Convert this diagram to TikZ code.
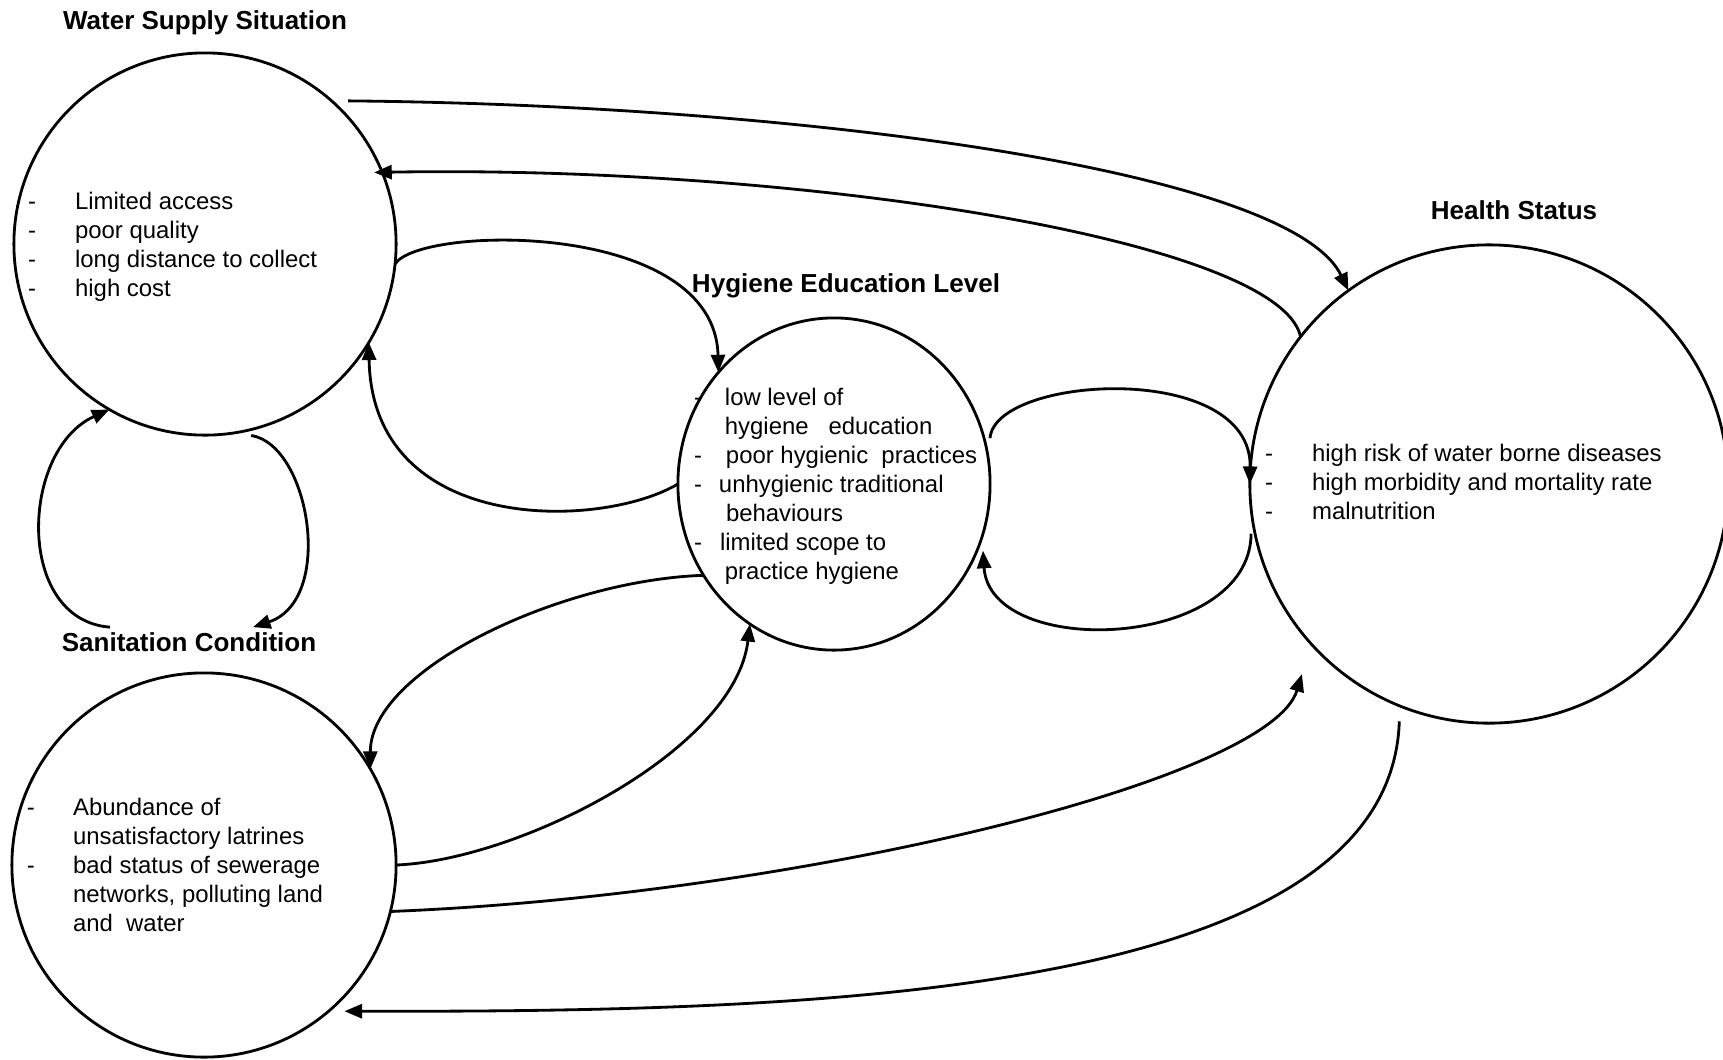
\documentclass[tikz,border=0pt]{standalone}
\usepackage{fontspec}
\setmainfont{Liberation Sans}
\usetikzlibrary{shapes.geometric,arrows.meta,calc}

% a bullet line: dash, then the text after a fixed indent
\newcommand\dashitem[2]{\makebox[#1][l]{-}#2}

\begin{document}
\begin{tikzpicture}[x=0.01cm,y=-0.01cm,
  every node/.style={inner sep=0pt, outer sep=0pt},
  bubble/.style={draw, circle, line width=0.8pt},
  title/.style={font=\fontsize{7.4}{8.9}\selectfont\bfseries, anchor=base},
  body/.style={font=\fontsize{6.8}{8.25}\selectfont, anchor=base west},
  link/.style={line width=0.8pt, -{Triangle[length=5pt,width=4pt]}},
]
\useasboundingbox (0,0) rectangle (1723,1059);

% the four factors
\node[bubble, minimum size=3.82cm] (water) at (205,244) {};
\node[bubble, minimum size=3.84cm] (sani) at (204,865) {};
\node[draw, ellipse, line width=0.8pt, minimum width=3.12cm, minimum height=3.32cm] (hyg) at (834,484) {};
\node[bubble, minimum size=4.78cm] (health) at (1489,484) {};

% headings
\node[title] (twater) at (205,29) {Water Supply Situation};
\node[title] (tsani) at (189,651) {Sanitation Condition};
\node[title] (thyg) at (846,292) {Hygiene Education Level};
\node[title] (thealth) at (1514,219) {Health Status};

% contents
\node[body] (xwater) at (28,209) {\begin{tabular}[t]{@{}l@{}}
\dashitem{13.4pt}{Limited access}\\
\dashitem{13.4pt}{poor quality}\\
\dashitem{13.4pt}{long distance to collect}\\
\dashitem{13.4pt}{high cost}
\end{tabular}};

\node[body] (xsani) at (27,815) {\begin{tabular}[t]{@{}l@{}}
\dashitem{13.1pt}{Abundance of}\\
\hspace*{13.1pt}unsatisfactory latrines\\
\dashitem{13.1pt}{bad status of sewerage}\\
\hspace*{13.1pt}networks, polluting land\\
\hspace*{13.1pt}and\ \ water
\end{tabular}};

\node[body] (xhyg) at (694,405) {\begin{tabular}[t]{@{}l@{}}
\dashitem{8.8pt}{low level of}\\
\hspace*{8.8pt}hygiene\ \ \ education\\
\dashitem{9.1pt}{poor hygienic\ \ practices}\\
\dashitem{7.1pt}{unhygienic traditional}\\
\hspace*{9.1pt}behaviours\\
\dashitem{7.4pt}{limited scope to}\\
\hspace*{8.8pt}practice hygiene
\end{tabular}};

\node[body] (xhealth) at (1265,461) {\begin{tabular}[t]{@{}l@{}}
\dashitem{13.4pt}{high risk of water borne diseases}\\
\dashitem{13.4pt}{high morbidity and mortality rate}\\
\dashitem{13.4pt}{malnutrition}
\end{tabular}};

% water <-> health
\draw[link] ($(water.45)+(8,-8)$) .. controls (800,105) and (1290,170) .. (health.126);
\draw[link] (health.142) .. controls (1280,240) and (800,165) .. ($(water.22)+(-8,0)$);

% water <-> hygiene
\draw[link] (water.-6) .. controls (420,225) and (715,220) .. (hyg.136);
\draw[link] (hyg.180) .. controls (600,530) and (372,535) .. (water.-31);

% water <-> sanitation
\draw[link] ($(water.-76)+(0,6)$) .. controls (310,445) and (335,600) .. ($(tsani.north)+(64,-5)$);
\draw[link] ($(tsani.north)+(-79,-5)$) .. controls (15,620) and (20,450) .. (water.-120);

% hygiene <-> sanitation
\draw[link] (hyg.-145) .. controls (560,580) and (370,670) .. (sani.30);
\draw[link] (sani.0) .. controls (520,860) and (735,750) .. (hyg.-121);

% sanitation <-> health
\draw[link] (sani.-14) .. controls (800,895) and (1270,780) .. ($(health.-135)+(-18,21)$);
\draw[link] ($(health.-111)+(-4,14)$) .. controls (1390,1000) and (800,1012) .. ($(sani.-46)+(7,8)$);

% hygiene <-> health
\draw[link] ($(hyg.17)+(6,0)$) .. controls (995,375) and (1252,360) .. (health.180);
\draw[link] ($(health.-168)+(-4,0)$) .. controls (1250,650) and (990,660) .. ($(hyg.-25)+(6,0)$);
\end{tikzpicture}
\end{document}
